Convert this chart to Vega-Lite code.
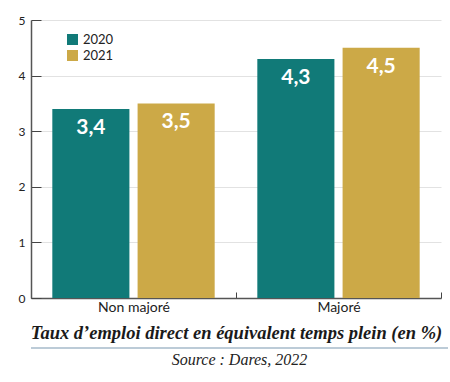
{
  "$schema": "https://vega.github.io/schema/vega-lite/v6.json",
  "background": "white",
  "padding": {"left": 18, "top": 14, "right": 10, "bottom": 10},
  "config": {
    "locale": {"number": {"decimal": ",", "thousands": " ", "grouping": [3], "currency": ["", " €"]}}
  },
  "columns": 1,
  "align": "none",
  "spacing": 5,
  "concat": [
    {
      "width": 403,
      "height": 278,
      "view": {"stroke": null},
      "data": {"values": [
        {"categorie": "Non majoré", "annee": "2020", "taux": 3.4},
        {"categorie": "Non majoré", "annee": "2021", "taux": 3.5},
        {"categorie": "Majoré", "annee": "2020", "taux": 4.3},
        {"categorie": "Majoré", "annee": "2021", "taux": 4.5}
      ]},
      "encoding": {
        "x": {
          "field": "categorie", "type": "nominal", "sort": ["Non majoré", "Majoré"],
          "scale": {"paddingInner": 0, "paddingOuter": 0, "range": [0, 410]},
          "axis": {
            "title": "Taux d’emploi direct en équivalent temps plein (en %)",
            "titleFont": "Liberation Serif", "titleFontStyle": "italic", "titleFontWeight": "bold",
            "titleFontSize": 18.5, "titleColor": "#1a1a1a", "titlePadding": 9,
            "labelAngle": 0, "labelFont": "Lato", "labelFontSize": 14, "labelColor": "#222", "labelPadding": 8,
            "tickBand": "extent", "tickSize": -6, "tickColor": "#444", "domainColor": "#555", "domainWidth": 1.5
          }
        },
        "xOffset": {"field": "annee", "type": "nominal", "scale": {"paddingInner": 0.096, "paddingOuter": 0.25}},
        "y": {
          "field": "taux", "type": "quantitative", "scale": {"domain": [0, 5]},
          "axis": {
            "values": [0, 1, 2, 3, 4, 5], "title": null, "grid": true, "gridColor": "#e2e2e2",
            "tickSize": -10, "tickColor": "#444", "labelPadding": 16, "domainColor": "#555", "domainWidth": 1.5,
            "labelFont": "Lato", "labelFontSize": 12, "labelColor": "#222"
          }
        }
      },
      "layer": [
        {
          "mark": {"type": "bar"},
          "encoding": {
            "color": {
              "field": "annee", "type": "nominal",
              "scale": {"domain": ["2020", "2021"], "range": ["#117a78", "#cca947"]},
              "legend": {
                "title": null, "orient": "none", "legendX": 35, "legendY": 13,
                "symbolType": "square", "symbolSize": 121, "symbolStrokeWidth": 0, "symbolOpacity": 1,
                "labelFont": "Lato", "labelFontSize": 13, "labelColor": "#222", "rowPadding": 2
              }
            }
          }
        },
        {
          "mark": {"type": "text", "color": "white", "fontWeight": "bold", "font": "Lato", "fontSize": 21, "baseline": "middle", "dy": 19},
          "encoding": {"text": {"field": "taux", "type": "quantitative", "format": ".1f"}}
        }
      ]
    },
    {
      "width": 417,
      "height": 2,
      "view": {"stroke": null, "fill": "#bccbd7"},
      "data": {"values": [{"source": "Source : Dares, 2022"}]},
      "mark": {"type": "text", "font": "Liberation Serif", "fontStyle": "italic", "fontSize": 16, "color": "#222", "baseline": "top", "dy": 4},
      "encoding": {"text": {"field": "source", "type": "nominal"}}
    }
  ]
}
